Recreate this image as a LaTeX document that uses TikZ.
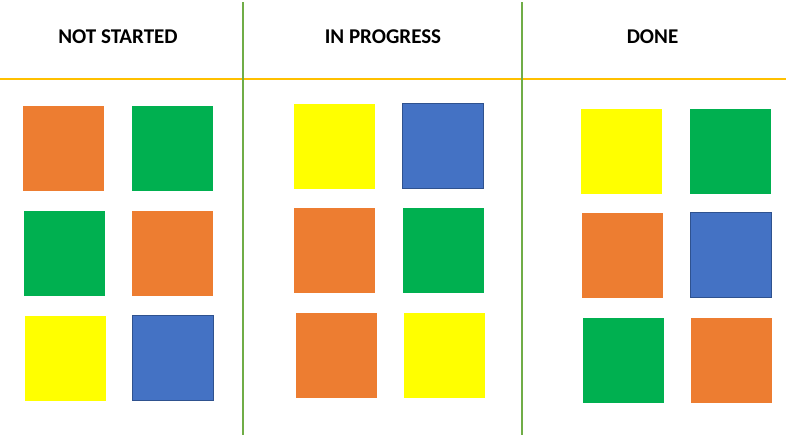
\documentclass[tikz,border=0pt]{standalone}
\usepackage{fontspec}
\setmainfont{Carlito}
\usepackage{tikz}
\definecolor{KBorange}{HTML}{ED7D31}
\definecolor{KBgreen}{HTML}{00B050}
\definecolor{KByellow}{HTML}{FFFF00}
\definecolor{KBblue}{HTML}{4472C4}
\definecolor{KBblueedge}{HTML}{2F528F}
\definecolor{KBgold}{HTML}{FFC000}
\definecolor{KBleaf}{HTML}{70AD47}
\tikzstyle{card} = [rectangle, minimum width=81pt, minimum height=85pt, inner sep=0pt]
\tikzstyle{orangecard} = [card, fill=KBorange]
\tikzstyle{greencard} = [card, fill=KBgreen]
\tikzstyle{yellowcard} = [card, fill=KByellow]
\tikzstyle{bluecard} = [card, fill=KBblue, draw=KBblueedge, line width=1pt]
\tikzstyle{heading} = [font=\fontsize{21}{25}\selectfont\bfseries, inner sep=0pt]
\tikzstyle{rowline} = [KBgold, line width=2pt]
\tikzstyle{colline} = [KBleaf, line width=2pt]

\begin{document}
\begin{tikzpicture}[x=1pt, y=-1pt]

\useasboundingbox (0,0) rectangle (786,439);

% board lines
\coordinate (hl) at (0,78.5);
\coordinate (hr) at (786,78.5);
\coordinate (v1t) at (243,2);
\coordinate (v1b) at (243,435);
\coordinate (v2t) at (522,2);
\coordinate (v2b) at (522,435);

\draw [rowline] (hl) -- (hr);
\draw [colline] (v1t) -- (v1b);
\draw [colline] (v2t) -- (v2b);

% headings
\node (hns) [heading] at (118,37) {NOT STARTED};
\node (hip) [heading] at (383,37) {IN PROGRESS};
\node (hdn) [heading] at (652.5,37) {DONE};

% not started
\node (ns1) [orangecard] at (63.5,148.5) {};
\node (ns2) [greencard] at (172.5,148.5) {};
\node (ns3) [greencard] at (64.3,253) {};
\node (ns4) [orangecard] at (172.5,253) {};
\node (ns5) [yellowcard] at (65.3,358.3) {};
\node (ns6) [bluecard] at (173.3,358.3) {};

% in progress
\node (ip1) [yellowcard] at (334,146.5) {};
\node (ip2) [bluecard] at (443.2,146.2) {};
\node (ip3) [orangecard] at (334.8,250.5) {};
\node (ip4) [greencard] at (443.3,250.5) {};
\node (ip5) [orangecard] at (336,355.8) {};
\node (ip6) [yellowcard] at (444.3,355.6) {};

% done
\node (dn1) [yellowcard] at (621.5,151.2) {};
\node (dn2) [greencard] at (730.5,151.2) {};
\node (dn3) [orangecard] at (622.5,255.2) {};
\node (dn4) [bluecard] at (730.5,255.2) {};
\node (dn5) [greencard] at (623.5,360.5) {};
\node (dn6) [orangecard] at (731.6,360.5) {};

\end{tikzpicture}
\end{document}
